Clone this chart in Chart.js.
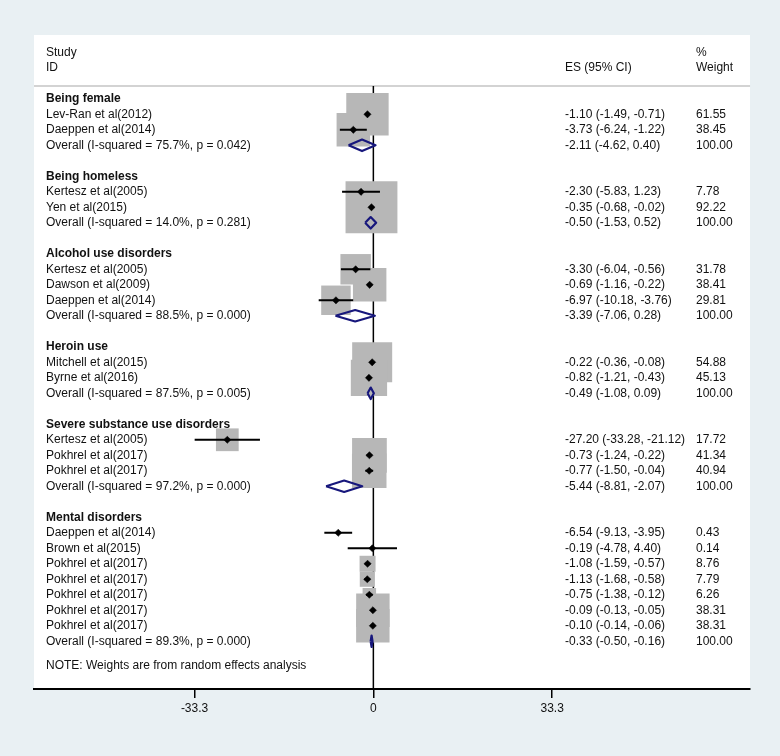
<!DOCTYPE html>
<html>
<head>
<meta charset="utf-8">
<script src="https://cdn.jsdelivr.net/npm/chart.js@4.4.1/dist/chart.umd.min.js"></script>
<style>
  html, body { margin: 0; padding: 0; background: #e9f0f3; }
  #wrap { width: 780px; height: 756px; }
</style>
</head>
<body>
<div id="wrap"><canvas id="forest" width="780" height="756"></canvas></div>
<script>
// one entry per row of the plot ('' rows are the gaps between subgroups)
const rowLabels = [
  'Being female', 'Lev-Ran et al(2012)', 'Daeppen et al(2014)', 'Overall (I-squared = 75.7%, p = 0.042)', '',
  'Being homeless', 'Kertesz et al(2005)', 'Yen et al(2015)', 'Overall (I-squared = 14.0%, p = 0.281)', '',
  'Alcohol use disorders', 'Kertesz et al(2005)', 'Dawson et al(2009)', 'Daeppen et al(2014)', 'Overall (I-squared = 88.5%, p = 0.000)', '',
  'Heroin use', 'Mitchell et al(2015)', 'Byrne et al(2016)', 'Overall (I-squared = 87.5%, p = 0.005)', '',
  'Severe substance use disorders', 'Kertesz et al(2005)', 'Pokhrel et al(2017)', 'Pokhrel et al(2017)', 'Overall (I-squared = 97.2%, p = 0.000)', '',
  'Mental disorders', 'Daeppen et al(2014)', 'Brown et al(2015)', 'Pokhrel et al(2017)', 'Pokhrel et al(2017)', 'Pokhrel et al(2017)',
  'Pokhrel et al(2017)', 'Pokhrel et al(2017)', 'Overall (I-squared = 89.3%, p = 0.000)'
];
// g = subgroup heading, s = study, o = subgroup overall
const rowKind = [
  'g', 's', 's', 'o', '',
  'g', 's', 's', 'o', '',
  'g', 's', 's', 's', 'o', '',
  'g', 's', 's', 'o', '',
  'g', 's', 's', 's', 'o', '',
  'g', 's', 's', 's', 's', 's', 's', 's', 'o'
];
const es = [
  null, -1.10, -3.73, -2.11, null,
  null, -2.30, -0.35, -0.50, null,
  null, -3.30, -0.69, -6.97, -3.39, null,
  null, -0.22, -0.82, -0.49, null,
  null, -27.20, -0.73, -0.77, -5.44, null,
  null, -6.54, -0.19, -1.08, -1.13, -0.75, -0.09, -0.10, -0.33
];
const lower = [
  null, -1.49, -6.24, -4.62, null,
  null, -5.83, -0.68, -1.53, null,
  null, -6.04, -1.16, -10.18, -7.06, null,
  null, -0.36, -1.21, -1.08, null,
  null, -33.28, -1.24, -1.50, -8.81, null,
  null, -9.13, -4.78, -1.59, -1.68, -1.38, -0.13, -0.14, -0.50
];
const upper = [
  null, -0.71, -1.22, 0.40, null,
  null, 1.23, -0.02, 0.52, null,
  null, -0.56, -0.22, -3.76, 0.28, null,
  null, -0.08, -0.43, 0.09, null,
  null, -21.12, -0.22, -0.04, -2.07, null,
  null, -3.95, 4.40, -0.57, -0.58, -0.12, -0.05, -0.06, -0.16
];
const weight = [
  null, 61.55, 38.45, 100.00, null,
  null, 7.78, 92.22, 100.00, null,
  null, 31.78, 38.41, 29.81, 100.00, null,
  null, 54.88, 45.13, 100.00, null,
  null, 17.72, 41.34, 40.94, 100.00, null,
  null, 0.43, 0.14, 8.76, 7.79, 6.26, 38.31, 38.31, 100.00
];
const xTicks = [-33.3, 0, 33.3];
const note = 'NOTE: Weights are from random effects analysis';

const FONT = '"Liberation Sans", Arial, Helvetica, sans-serif';
const NAVY = '#17177c';
const BOX = '#b7b7b7';
const DIAMOND_HALF = 0.37;   // half height of the pooled diamonds, in rows
const BOX_SCALE = 5.4;       // box side in px per sqrt(weight)

const rows = rowLabels.map((_, i) => i);
const studyRows = rows.filter(i => rowKind[i] === 's');
const overallRows = rows.filter(i => rowKind[i] === 'o');

const boxData = studyRows.map(i => ({ x: es[i], y: i, w: weight[i] }));
const ciData = studyRows.flatMap(i => [
  { x: lower[i], y: i }, { x: upper[i], y: i }, { x: upper[i], y: null }
]);
const pointData = studyRows.map(i => ({ x: es[i], y: i }));
const diamondData = overallRows.flatMap(i => [
  { x: lower[i], y: i }, { x: es[i], y: i - DIAMOND_HALF }, { x: upper[i], y: i },
  { x: es[i], y: i + DIAMOND_HALF }, { x: lower[i], y: i }, { x: lower[i], y: null }
]);

const fmt = v => v.toFixed(2);

const forestDecor = {
  id: 'forestDecor',
  beforeDraw(chart) {
    const { ctx, chartArea: a } = chart;
    ctx.save();
    ctx.fillStyle = '#e9f0f3';
    ctx.fillRect(0, 0, chart.width, chart.height);
    ctx.fillStyle = '#ffffff';
    ctx.fillRect(a.left, a.top, a.right - a.left, a.bottom - a.top);
    ctx.restore();
  },
  beforeDatasetsDraw(chart) {
    const { ctx, chartArea: a, scales: { x, y } } = chart;
    const yHead = y.getPixelForValue(-0.83);
    ctx.save();
    ctx.strokeStyle = '#c4c4c4';
    ctx.lineWidth = 1.6;
    ctx.beginPath();
    ctx.moveTo(a.left, yHead);
    ctx.lineTo(a.right, yHead);
    ctx.stroke();
    const x0 = x.getPixelForValue(0);
    ctx.strokeStyle = '#000';
    ctx.lineWidth = 1.5;
    ctx.beginPath();
    ctx.moveTo(x0, yHead);
    ctx.lineTo(x0, a.bottom);
    ctx.stroke();
    ctx.restore();
  },
  afterDraw(chart) {
    const { ctx, chartArea: a, scales: { y } } = chart;
    const colId = a.left + 12, colEs = 565, colW = 696;
    ctx.save();
    ctx.fillStyle = '#111';
    ctx.textBaseline = 'middle';
    ctx.textAlign = 'left';
    ctx.font = '12px ' + FONT;
    ctx.fillText('Study', colId, y.getPixelForValue(-3));
    ctx.fillText('ID', colId, y.getPixelForValue(-2));
    ctx.fillText('ES (95% CI)', colEs, y.getPixelForValue(-2));
    ctx.fillText('%', colW, y.getPixelForValue(-3));
    ctx.fillText('Weight', colW, y.getPixelForValue(-2));
    rows.forEach(i => {
      const py = y.getPixelForValue(i);
      if (rowKind[i] === 'g') {
        ctx.font = 'bold 12px ' + FONT;
        ctx.fillText(rowLabels[i], colId, py);
      } else if (rowKind[i] === 's' || rowKind[i] === 'o') {
        ctx.font = '12px ' + FONT;
        ctx.fillText(rowLabels[i], colId, py);
        ctx.fillText(fmt(es[i]) + ' (' + fmt(lower[i]) + ', ' + fmt(upper[i]) + ')', colEs, py);
        ctx.fillText(fmt(weight[i]), colW, py);
      }
    });
    ctx.font = '12px ' + FONT;
    ctx.fillText(note, colId, y.getPixelForValue(36.6));
    ctx.restore();
  }
};

new Chart(document.getElementById('forest'), {
  type: 'line',
  data: {
    datasets: [
      {
        label: 'boxes', data: boxData, showLine: false, order: 4,
        pointStyle: 'rect', pointBackgroundColor: BOX, pointBorderWidth: 0,
        pointRadius: ctx => BOX_SCALE * Math.sqrt(ctx.raw.w) / Math.SQRT2
      },
      {
        label: 'ci', data: ciData, order: 3, borderColor: '#000', borderWidth: 2,
        pointRadius: 0, spanGaps: false, tension: 0
      },
      {
        label: 'es', data: pointData, showLine: false, order: 2,
        pointStyle: 'rectRot', pointRadius: 3.6, pointBackgroundColor: '#000',
        pointBorderColor: '#000', pointBorderWidth: 0.5
      },
      {
        label: 'overall', data: diamondData, order: 1, borderColor: NAVY, borderWidth: 2.2,
        pointRadius: 0, spanGaps: false, tension: 0, borderJoinStyle: 'round'
      }
    ]
  },
  options: {
    responsive: false,
    animation: false,
    events: [],
    layout: { padding: { left: 34, right: 28, top: 35, bottom: 37.6 } },
    plugins: { legend: { display: false }, tooltip: { enabled: false } },
    scales: {
      x: {
        type: 'linear',
        min: -63.2,
        max: 70.15,
        afterBuildTicks: axis => { axis.ticks = xTicks.map(v => ({ value: v })); },
        ticks: {
          color: '#111',
          font: { family: FONT, size: 12 },
          callback: v => String(v)
        },
        grid: { drawOnChartArea: false, drawTicks: true, tickLength: 9, color: '#000', lineWidth: 1.5 },
        border: { display: true, color: '#000', width: 2 }
      },
      y: {
        type: 'linear',
        display: false,
        reverse: true,
        min: -4.116,
        max: 38.08
      }
    }
  },
  plugins: [forestDecor]
});
</script>
</body>
</html>
